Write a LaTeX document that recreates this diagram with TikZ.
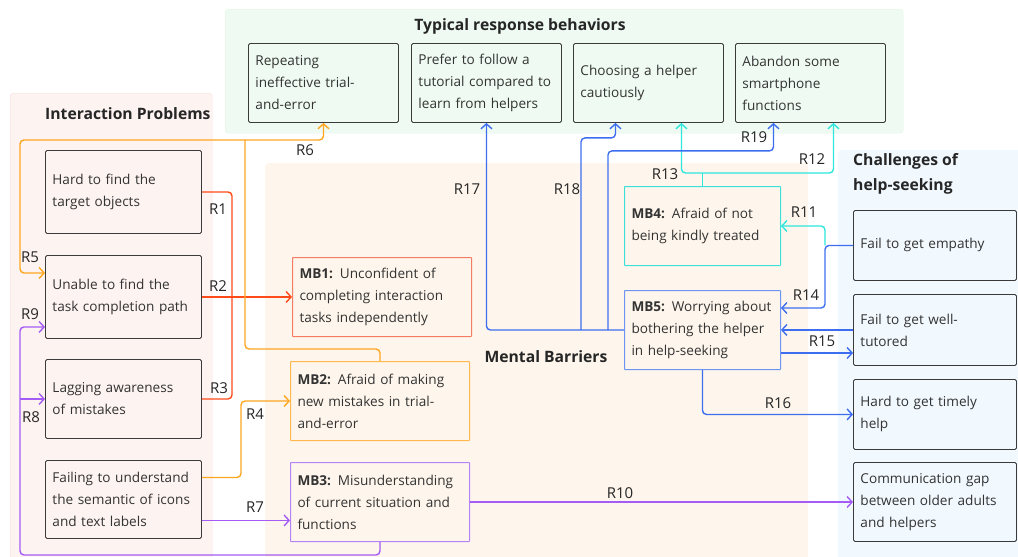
\documentclass[tikz,border=0pt]{standalone}
\usepackage{fontspec}
\setmainfont{Open Sans}
\usetikzlibrary{arrows.meta, positioning, calc}

\definecolor{txt}{HTML}{333333}
\definecolor{boxline}{HTML}{3A3A3A}
\definecolor{ipfill}{HTML}{FDF3F1}
\definecolor{ipline}{HTML}{F8DEDC}
\definecolor{trfill}{HTML}{EFFBF2}
\definecolor{trline}{HTML}{DFF5E5}
\definecolor{mbfill}{HTML}{FEF6EC}
\definecolor{chfill}{HTML}{F1F8FE}
\definecolor{redR}{HTML}{FF4A1A}
\definecolor{orangeR}{HTML}{FFA620}
\definecolor{purpleR}{HTML}{A55BF5}
\definecolor{cyanR}{HTML}{2EE6DD}
\definecolor{blueR}{HTML}{3D6EF0}
\definecolor{mbred}{HTML}{F47C64}
\definecolor{mborange}{HTML}{FFB84D}
\definecolor{mbpurple}{HTML}{B583F5}
\definecolor{mbcyan}{HTML}{3DE0D8}
\definecolor{mbblue}{HTML}{6E95F2}

\newcommand{\boxfont}{\fontsize{13.6}{22}\selectfont}
\tikzstyle{group} = [rectangle, anchor=north west, inner sep=0pt, rounded corners=3pt]
\tikzstyle{title} = [anchor=west, inner sep=0pt, text=black!85, font=\fontsize{15.7}{25}\selectfont\bfseries, align=left]
\tikzstyle{entry} = [rectangle, draw=boxline, line width=0.9pt, rounded corners=1.5pt, anchor=north west, inner xsep=7pt, align=left, text=txt, font=\boxfont]
\tikzstyle{prob} = [entry, fill=ipfill, text width=142pt, minimum height=83pt]
\tikzstyle{resp} = [entry, fill=trfill, text width=136pt, minimum height=79pt]
\tikzstyle{chal} = [entry, fill=chfill, text width=149pt, minimum height=70pt]
\tikzstyle{barrier} = [entry, fill=mbfill, line width=1pt, rounded corners=0.5pt, minimum height=79pt]
\tikzstyle{lab} = [inner sep=0pt, text=black!85, font=\fontsize{15}{18}\selectfont]
\tikzstyle{wire} = [draw, line width=1.4pt, rounded corners=4pt]
\tikzstyle{line} = [wire, -{Straight Barb[length=5pt,width=11pt,line width=1.4pt]}]

\begin{document}
\begin{tikzpicture}[x=1pt, y=-1pt]
    \useasboundingbox (0,0) rectangle (1018,557);

    % Groups
    \node [group, fill=ipfill, draw=ipline, minimum width=202pt, minimum height=470pt] (ipgrp) at (10,93) {};
    \node [group, fill=trfill, draw=trline, minimum width=678pt, minimum height=124pt] (trgrp) at (225,9) {};
    \node [group, fill=mbfill, minimum width=543pt, minimum height=400pt] (mbgrp) at (265,163) {};
    \node [group, fill=chfill, minimum width=185pt, minimum height=410pt] (chgrp) at (838,150) {};

    \node [title] (iptitle) at (45,114) {Interaction Problems};
    \node [title, anchor=center] (trtitle) at (520,26) {Typical response behaviors};
    \node [title, anchor=center] (mbtitle) at (546,357) {Mental Barriers};
    \node [title, anchor=north west] (chtitle) at (853,153) {Challenges of\\help-seeking};

    % Nodes
    \node [prob] (ip1) at (45,150) {Hard to find the\\target objects};
    \node [prob] (ip2) at (45,255) {Unable to find the\\task completion path};
    \node [prob, minimum height=79pt] (ip3) at (45,359) {Lagging awareness\\of mistakes};
    \node [prob, minimum height=78pt] (ip4) at (45,460) {Failing to understand\\the semantic of icons\\and text labels};

    \node [resp] (tr1) at (248,43) {Repeating\\ineffective trial-\\and-error};
    \node [resp] (tr2) at (411,43) {Prefer to follow a\\tutorial compared to\\learn from helpers};
    \node [resp] (tr3) at (573,43) {Choosing a helper\\cautiously};
    \node [resp] (tr4) at (735,43) {Abandon some\\smartphone\\functions};

    \node [barrier, draw=mbred, text width=165pt] (mb1) at (292,257) {\textbf{MB1:} Unconfident of\\completing interaction\\tasks independently};
    \node [barrier, draw=mborange, text width=165pt] (mb2) at (290,361) {\textbf{MB2:} Afraid of making\\new mistakes in trial-\\and-error};
    \node [barrier, draw=mbpurple, text width=165pt] (mb3) at (290,462) {\textbf{MB3:} Misunderstanding\\of current situation and\\functions};
    \node [barrier, draw=mbcyan, text width=142pt] (mb4) at (624,186) {\textbf{MB4:} Afraid of not\\being kindly treated};
    \node [barrier, draw=mbblue, text width=142pt] (mb5) at (624,290) {\textbf{MB5:} Worrying about\\bothering the helper\\in help-seeking};

    \node [chal] (ch1) at (853,210) {Fail to get empathy};
    \node [chal, minimum height=71pt] (ch2) at (853,294) {Fail to get well-\\tutored};
    \node [chal] (ch3) at (853,379) {Hard to get timely\\help};
    \node [chal, minimum height=79pt] (ch4) at (853,462) {Communication gap\\between older adults\\and helpers};

    % Lines
    \coordinate (rj) at (232,296);
    \coordinate (oj) at (245,140);
    \coordinate (rail) at (20,555);

    \path [wire, draw=redR] (ip1.east) -| (rj);
    \path [wire, draw=redR] (ip3.east) -| (rj);
    \path [line, draw=redR] (ip2.east) -- (ip2.east -| mb1.west);

    \path [line, draw=orangeR] ($(ip4.east)+(0,-22)$) -| ($(mb2.west)+(-49,0)$) -- (mb2.west);
    \path [wire, draw=orangeR] (mb2.north) -- ++(0,-12) -| (oj);
    \path [line, draw=orangeR] (oj) -| (tr1.south);
    \path [line, draw=orangeR] (oj) -| ($(ip2.west)+(-25,-24)$) -- ($(ip2.west)+(0,-24)$);

    \path [line, draw=purpleR] ($(ip4.east)+(0,21)$) coordinate (r7s) -- (r7s -| mb3.west);
    \path [line, draw=purpleR] (mb3.south) |- (rail) |- ($(ip2.west)+(0,30)$);
    \path [line, draw=purpleR] (rail |- ip3.west) -- (ip3.west);
    \path [line, draw=purpleR] (mb3.east) -- (mb3.east -| ch4.west);

    \path [line, draw=cyanR] ($(ch1.west)+(-28,0)$) |- (mb4.east);
    \path [wire, draw=cyanR] (mb4.north) -- ++(0,-13) coordinate (cj);
    \path [line, draw=cyanR] (cj) -| ($(tr3.south)+(33,0)$);
    \path [line, draw=cyanR] (cj) -| ($(tr4.south)+(23,0)$);

    \path [line, draw=blueR] (ch1.west) -- ++(-28,0) |- ($(mb5.east)+(0,-22)$);
    \path [line, draw=blueR] (ch2.west) -- (ch2.west -| mb5.east);
    \path [line, draw=blueR] ($(mb5.east)+(0,23)$) coordinate (r15s) -- (r15s -| ch2.west);
    \path [line, draw=blueR] (mb5.south) |- (ch3.west);
    \path [line, draw=blueR] (mb5.west) -| (tr2.south);
    \path [line, draw=blueR] ($(mb5.west)+(-43,0)$) |- ($(tr3.south)+(-33,15)$) -- ($(tr3.south)+(-33,0)$);
    \path [line, draw=blueR] ($(mb5.west)+(-16,0)$) |- ($(tr4.south)+(-37,28)$) -- ($(tr4.south)+(-37,0)$);

    % Labels
    \node [lab] (l1) at (218,209) {R1};
    \node [lab] (l2) at (218,286) {R2};
    \node [lab] (l3) at (219,388) {R3};
    \node [lab] (l4) at (255,414) {R4};
    \node [lab] (l5) at (30,257) {R5};
    \node [lab] (l6) at (305,150) {R6};
    \node [lab] (l7) at (255,507) {R7};
    \node [lab] (l8) at (31,417) {R8};
    \node [lab] (l9) at (30,314) {R9};
    \node [lab] (l10) at (620,493) {R10};
    \node [lab] (l11) at (804,212) {R11};
    \node [lab] (l12) at (812,159) {R12};
    \node [lab] (l13) at (665,174) {R13};
    \node [lab] (l14) at (806,295) {R14};
    \node [lab] (l15) at (822,341) {R15};
    \node [lab] (l16) at (778,403) {R16};
    \node [lab] (l17) at (467,189) {R17};
    \node [lab] (l18) at (567,189) {R18};
    \node [lab] (l19) at (754,137) {R19};

\end{tikzpicture}
\end{document}
